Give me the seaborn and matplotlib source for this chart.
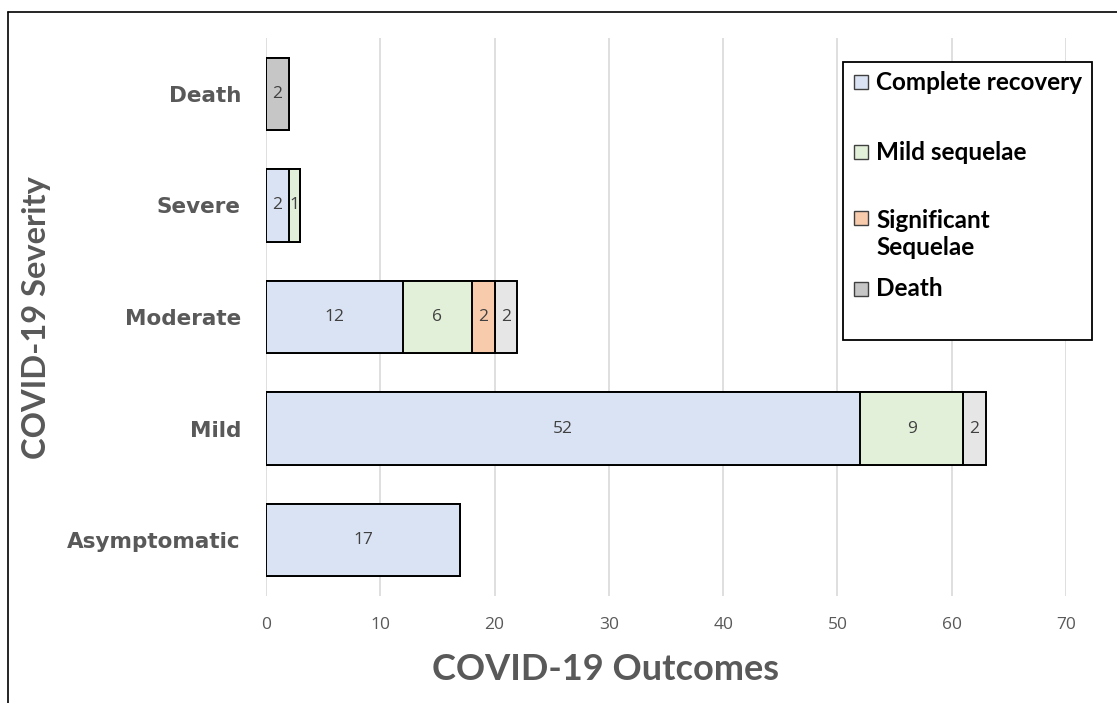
import matplotlib
matplotlib.use("Agg")
import matplotlib.pyplot as plt
import seaborn as sns
import pandas as pd
import numpy as np
from matplotlib.patches import Rectangle
from matplotlib.lines import Line2D

categories = ["Death", "Severe", "Moderate", "Mild", "Asymptomatic"]
series_names = ["Complete recovery", "Mild sequelae", "Significant\nSequelae", "Death", "Other"]
complete_recovery = [0, 2, 12, 52, 17]
mild_sequelae = [0, 1, 6, 9, 0]
significant_sequelae = [0, 0, 2, 0, 0]
death = [2, 0, 0, 0, 0]
other = [0, 0, 2, 2, 0]
x_ticks = [0, 10, 20, 30, 40, 50, 60, 70]

colors = ["#DAE3F3", "#E2F0D9", "#F8CBAD", "#C6C6C6", "#E6E6E6"]
series = [complete_recovery, mild_sequelae, significant_sequelae, death, other]

sns.set_theme(style="white")
plt.rcParams["font.family"] = ["Lato", "DejaVu Sans"]

W, H = 1117, 703
fig = plt.figure(figsize=(W / 100, H / 100), dpi=100)
ax = fig.add_axes([266 / W, 1 - 596 / H, (1066 - 266) / W, (596 - 38) / H])

vals = np.array(series, dtype=float)
cum = np.cumsum(vals, axis=0)

# draw from outermost cumulative to innermost so each segment shows
for i in range(len(series) - 1, -1, -1):
    df = pd.DataFrame({"cat": categories, "value": cum[i]})
    sns.barplot(data=df, x="value", y="cat", order=categories, orient="h",
                color=colors[i], saturation=1, width=0.65,
                edgecolor="black", linewidth=1.4, ax=ax, zorder=3)

# data labels
for i in range(len(series)):
    for j, cat in enumerate(categories):
        v = vals[i, j]
        if v > 0:
            center = cum[i, j] - v / 2
            ax.text(center, j, f"{int(v)}", ha="center", va="center",
                    fontsize=12.5, color="#404040", zorder=5,
                    family=["Open Sans", "DejaVu Sans"])

ax.set_xlim(0, 70)
ax.set_ylim(len(categories) - 0.5, -0.5)
ax.set_xticks(x_ticks)
ax.set_xticklabels([str(t) for t in x_ticks], fontsize=12.5, color="#595959",
                   family=["Open Sans", "DejaVu Sans"])
ax.tick_params(axis="x", length=0, pad=15)
ax.tick_params(axis="y", length=0, pad=18)
for lab in ax.get_yticklabels():
    lab.set_fontsize(15.5)
    lab.set_fontweight("bold")
    lab.set_color("#595959")
    lab.set_family(["DejaVu Sans"])
ax.xaxis.grid(True, color="#D9D9D9", linewidth=1.2, zorder=0)
ax.set_axisbelow(True)
for s in ax.spines.values():
    s.set_visible(False)

ax.set_xlabel("")
ax.set_ylabel("")
fig.text(606 / W, 1 - 670 / H, "COVID-19 Outcomes", ha="center", va="center",
         fontsize=26, fontweight="bold", color="#595959")
fig.text(37 / W, 1 - 318 / H, "COVID-19 Severity", ha="center", va="center",
         rotation=90, fontsize=23.5, fontweight="bold", color="#595959")

# legend (manual layout to mimic the original box)
fig.patches.append(Rectangle((843 / W, 1 - 340 / H), (1092 - 843) / W, (340 - 62) / H,
                             transform=fig.transFigure, facecolor="white",
                             edgecolor="black", linewidth=1.3, zorder=10))
leg_items = [("Complete recovery", colors[0], 82, 82),
             ("Mild sequelae", colors[1], 152, 152),
             ("Significant\nSequelae", colors[2], 218, 234),
             ("Death", colors[3], 289, 289)]
for label, c, ybox, ytext in leg_items:
    fig.patches.append(Rectangle((854 / W, 1 - (ybox + 7) / H), 14 / W, 14 / H,
                                 transform=fig.transFigure, facecolor=c,
                                 edgecolor="#404040", linewidth=1.0, zorder=11))
    fig.text(876 / W, 1 - ytext / H, label, ha="left", va="center",
             fontsize=17.5, fontweight="bold", color="black", zorder=12,
             linespacing=1.25)

# outer border lines (top and left)
fig.add_artist(Line2D([8 / W, 1.0], [1 - 12 / H, 1 - 12 / H], transform=fig.transFigure,
                      color="black", linewidth=1.2))
fig.add_artist(Line2D([8 / W, 8 / W], [0, 1 - 12 / H], transform=fig.transFigure,
                      color="black", linewidth=1.2))

fig.savefig("out.png", dpi=100)
